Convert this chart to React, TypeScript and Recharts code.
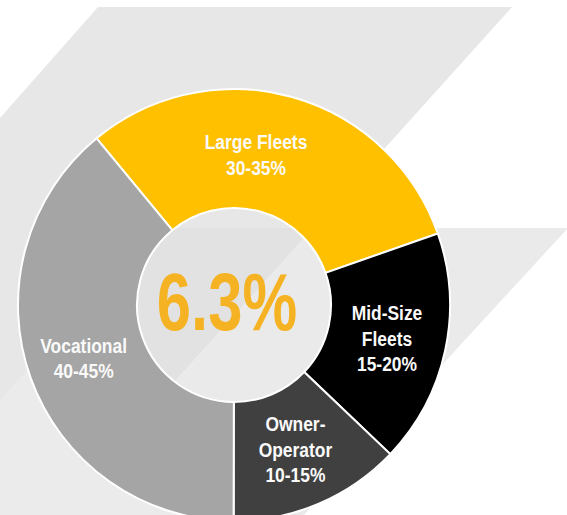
import { PieChart, Pie, Cell, Label } from "recharts";

// market segments, clockwise from the upper-left
const SEGMENTS = ["Large Fleets", "Mid-Size Fleets", "Owner-Operator", "Vocational"];
const SHARES = [30.6, 17.5, 12.9, 39.0];
const RANGE_LABELS = ["30-35%", "15-20%", "10-15%", "40-45%"];
const LABEL_LINES = [["Large Fleets"], ["Mid-Size", "Fleets"], ["Owner-", "Operator"], ["Vocational"]];
const CENTER_VALUE = "6.3%";

const COLORS = ["#FFC000", "#000000", "#404040", "#A5A5A5"];
const NUDGE_X = [-20, 0, 0, -3];

const CX = 229;
const CY = 300;
const FONT = "'Liberation Sans', Arial, sans-serif";
const NARROW = 0.83; // no Arial Narrow here, squeeze the glyphs instead
const RADIAN = Math.PI / 180;

const data = SEGMENTS.map((name, i) => ({ name, value: SHARES[i] }));

const squeeze = (x: number, k: number) => `translate(${x},0) scale(${k},1) translate(${-x},0)`;

const renderLabel = (props: any) => {
  const { cx, cy, midAngle, innerRadius, outerRadius, index } = props;
  const r = (innerRadius + outerRadius) / 2;
  const x = cx + r * Math.cos(-midAngle * RADIAN) + NUDGE_X[index];
  const y = cy + r * Math.sin(-midAngle * RADIAN);
  const lines = [...LABEL_LINES[index], RANGE_LABELS[index]];
  const lh = 25.5;
  const y0 = y - ((lines.length - 1) * lh) / 2;
  return (
    <text
      x={x}
      y={y0}
      textAnchor="middle"
      dominantBaseline="central"
      fill="#fafafa"
      fontFamily={FONT}
      fontWeight={700}
      fontSize={21}
      transform={squeeze(x, NARROW)}
    >
      {lines.map((l, i) => (
        <tspan key={i} x={x} y={y0 + i * lh}>
          {l}
        </tspan>
      ))}
    </text>
  );
};

const renderCenter = () => {
  const x = CX - 2;
  return (
    <text
      x={x}
      y={CY + 30}
      textAnchor="middle"
      fill="#F5B324"
      fontFamily={FONT}
      fontWeight={700}
      fontSize={81}
      transform={squeeze(x, 0.76)}
    >
      {CENTER_VALUE}
    </text>
  );
};

function Backdrop() {
  return (
    <svg width={567} height={515} style={{ position: "absolute", left: 0, top: 0 }}>
      {/* upper band running down the left side */}
      <polygon points="98,7 512,7 313,228 55,515 0,515 0,118" fill="#e7e7e7" />
      {/* slightly darker part left of the middle diagonal (seen through the hole) */}
      <polygon points="120,228 313,228 120,442" fill="#e2e2e2" />
      {/* lower band on the right */}
      <polygon points="313,228 568,228 304,515 55,515" fill="#eaeaea" />
      {/* faint lighter stripe bottom left, tucked under the ring */}
      <polygon points="0,400 111,276 130,276 130,400 230,400 230,515 0,515" fill="#ebebeb" />
    </svg>
  );
}

export default function App() {
  return (
    <div style={{ position: "fixed", left: 0, top: 0, width: 567, height: 515, background: "#fff", overflow: "hidden" }}>
      <Backdrop />
      <div style={{ position: "absolute", left: 0, top: 0 }}>
        <PieChart width={567} height={515}>
          <Pie
            data={data}
            dataKey="value"
            nameKey="name"
            cx={CX}
            cy={CY}
            innerRadius={97}
            outerRadius={216}
            startAngle={129.5}
            endAngle={-230.5}
            stroke="#ffffff"
            strokeWidth={2}
            label={renderLabel}
            labelLine={false}
            isAnimationActive={false}
          >
            {data.map((_, i) => (
              <Cell key={`cell-${i}`} fill={COLORS[i]} />
            ))}
            <Label position="center" content={renderCenter} />
          </Pie>
        </PieChart>
      </div>
    </div>
  );
}
